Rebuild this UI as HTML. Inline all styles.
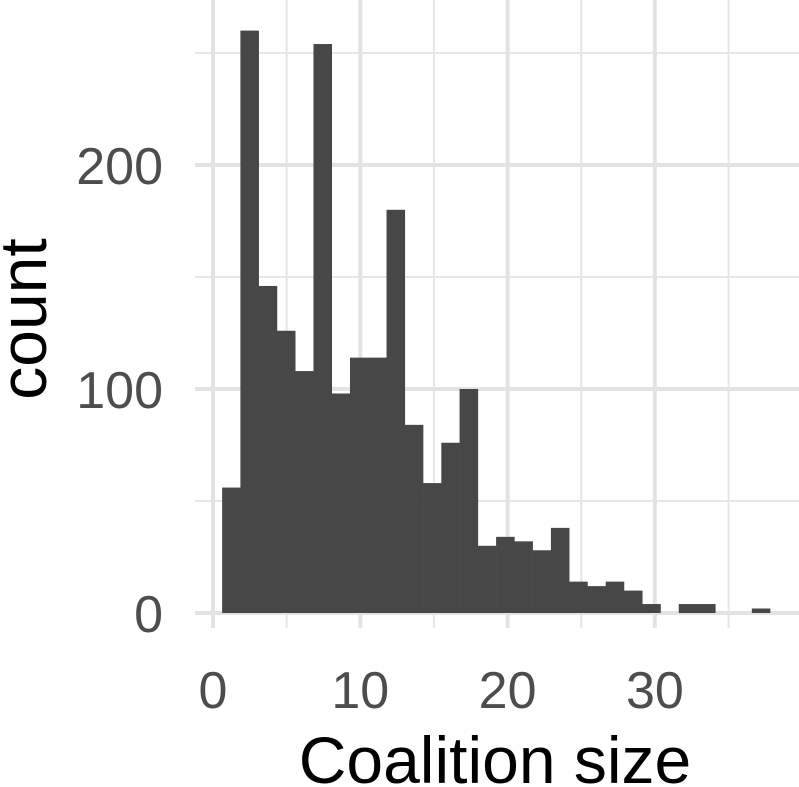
<!DOCTYPE html>
<html><head><meta charset="utf-8"><style>
body{margin:0;background:#fff}
svg{display:block;font-family:"Liberation Sans",Arial,sans-serif}
</style></head><body>
<svg id="c" width="799" height="787"></svg>
<script>
const binCounts=[56,260,146,126,108,254,98,114,114,180,84,58,76,100,30,34,32,28,38,14,12,14,10,4,0,4,4,0,0,2];
const binStart=0.62;
const binWidth=1.24;
const xTicks=[0,10,20,30];
const xMinor=[5,15,25,35];
const yTicks=[0,100,200];
const yMinor=[50,150,250];
const ns="http://www.w3.org/2000/svg";
const svg=document.getElementById('c');
const X=v=>213+v*14.73;
const Y=v=>613-v*2.24;
const L=195,R=799,T=0,B=628;
function el(t,a){const e=document.createElementNS(ns,t);for(const k in a)e.setAttribute(k,a[k]);svg.appendChild(e);return e;}
yMinor.forEach(v=>{const e=el('line',{x1:L,x2:R,y1:Y(v),y2:Y(v),stroke:'#e6e6e6','stroke-width':2});

});
xMinor.forEach(v=>{const e=el('line',{x1:X(v),x2:X(v),y1:T,y2:B,stroke:'#e6e6e6','stroke-width':2});

});
yTicks.forEach(v=>{const e=el('line',{x1:L,x2:R,y1:Y(v),y2:Y(v),stroke:'#e3e3e3','stroke-width':4});


const t=el('text',{x:163,y:Y(v)+19,'text-anchor':'end','font-size':52,fill:'#4d4d4d'});t.textContent=v;

});
xTicks.forEach(v=>{const e=el('line',{x1:X(v),x2:X(v),y1:T,y2:B,stroke:'#e3e3e3','stroke-width':4});


const t=el('text',{x:X(v),y:708,'text-anchor':'middle','font-size':52,fill:'#4d4d4d'});t.textContent=v;

});
binCounts.forEach((c,i)=>{if(c<=0)return;const x0=X(binStart+i*binWidth),x1=X(binStart+(i+1)*binWidth);
const r=el('rect',{x:x0,y:Y(c),width:x1-x0+0.3,height:Y(0)-Y(c),fill:'#474747'});

});
const xt=el('text',{x:495,y:783,'text-anchor':'middle','font-size':66,fill:'#000'});xt.textContent='Coalition size';


const yt=el('text',{x:0,y:0,'text-anchor':'middle','font-size':66,fill:'#000',transform:'translate(46,319) rotate(-90)'});yt.textContent='count';


</script>
</body></html>
